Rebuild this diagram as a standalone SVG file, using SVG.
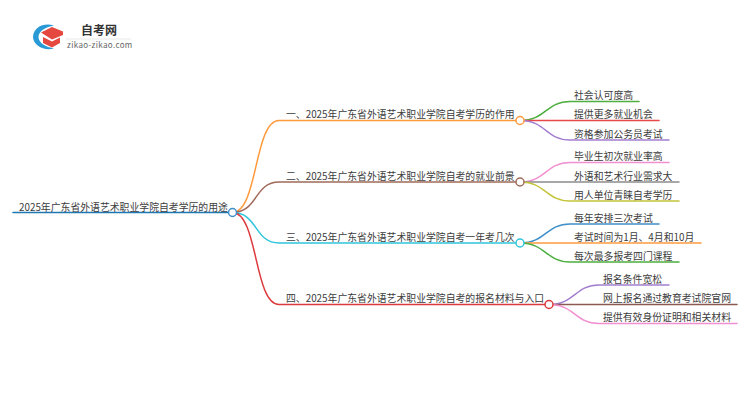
<svg xmlns="http://www.w3.org/2000/svg" width="750" height="410" viewBox="0 0 750 410">
<style>
text{font-family:"Noto Sans CJK SC","Liberation Sans",sans-serif;font-size:9.85px;fill:#3c3c3c}
.c{fill:none;stroke-width:1.5;stroke-linecap:round}
.n{fill:#fff;stroke-width:1.5}
</style>
<rect width="750" height="410" fill="#fff"/>
<g id="logo">
<path d="M54 25.500C44 22.500 33.500 27 33 37C33.500 46 44 51 54 48.500C46 47 38.500 43 38.500 37C38.500 31 46 27 54 25.500Z" fill="#2a9ad6"/>
<path d="M41 32.500L52 27L63 31.500V35L52 39.500Z" fill="#e5483f"/>
<path d="M43 37L52 41.500L60 37.500V43L52 47.500L43 43Z" fill="#e5483f"/>
<text x="81" y="35" style="font-size:12px;font-weight:700;fill:#333">自考网</text>
<line x1="66" y1="39" x2="131" y2="39" stroke="#e8e8e8"/>
<text x="67" y="48" style="font-size:8px;fill:#666;letter-spacing:.35px">zikao-zikao.com</text>
</g>
<g id="connectors">
<path class="c" stroke="#1f77b4" d="M13 212.500H228"/>
<path class="c" stroke="#ff9a3c" d="M232.500 212.500C258 212.500 254 120.500 279 120.500H516"/>
<path class="c" stroke="#a0695a" d="M232.500 212.500C258 212.500 254 182 279 182H516"/>
<path class="c" stroke="#2fc5dc" d="M232.500 212.500C258 212.500 254 243 279 243H516"/>
<path class="c" stroke="#dc3a3c" d="M232.500 212.500C258 212.500 254 304.500 279 304.500H545"/>
<path class="c" stroke="#4caf3f" d="M520 120.500C546 120.500 546 101.500 570 101.500H639"/>
<path class="c" stroke="#e8484a" d="M520 120.500H659"/>
<path class="c" stroke="#a37fd0" d="M520 120.500C546 120.500 546 140 570 140H669"/>
<path class="c" stroke="#f28fd0" d="M520 182C546 182 546 162.500 570 162.500H669"/>
<path class="c" stroke="#8c8c8c" d="M520 182H679"/>
<path class="c" stroke="#c4c43a" d="M520 182C546 182 546 201 570 201H679"/>
<path class="c" stroke="#3f8fc8" d="M520 243C546 243 546 224 570 224H659"/>
<path class="c" stroke="#ff9a3c" d="M520 243H701"/>
<path class="c" stroke="#4caf3f" d="M520 243C546 243 546 262 570 262H679"/>
<path class="c" stroke="#a37fd0" d="M549 304.500C575 304.500 575 285 599 285H669"/>
<path class="c" stroke="#8c5a50" d="M549 304.500H737"/>
<path class="c" stroke="#f28fd0" d="M549 304.500C575 304.500 575 323.500 599 323.500H737"/>
</g>
<g id="root"><text x="19" y="210.500">2025年广东省外语艺术职业学院自考学历的用途</text><circle class="n" cx="232.500" cy="212.500" r="4" stroke="#3f8fc8"/></g>
<g id="b1"><text x="286" y="118">一、2025年广东省外语艺术职业学院自考学历的作用</text><circle class="n" cx="520" cy="120.500" r="4" stroke="#ff9a3c"/></g>
<g id="b2"><text x="286" y="179.500">二、2025年广东省外语艺术职业学院自考的就业前景</text><circle class="n" cx="520" cy="182" r="4" stroke="#a0695a"/></g>
<g id="b3"><text x="286" y="240.500">三、2025年广东省外语艺术职业学院自考一年考几次</text><circle class="n" cx="520" cy="243" r="4" stroke="#2fc5dc"/></g>
<g id="b4"><text x="286" y="302">四、2025年广东省外语艺术职业学院自考的报名材料与入口</text><circle class="n" cx="549" cy="304.500" r="4" stroke="#dc3a3c"/></g>
<g id="l1"><text x="574" y="99">社会认可度高</text></g>
<g id="l2"><text x="574" y="118">提供更多就业机会</text></g>
<g id="l3"><text x="574" y="137.500">资格参加公务员考试</text></g>
<g id="l4"><text x="574" y="160">毕业生初次就业率高</text></g>
<g id="l5"><text x="574" y="179.500">外语和艺术行业需求大</text></g>
<g id="l6"><text x="574" y="198.500">用人单位青睐自考学历</text></g>
<g id="l7"><text x="574" y="221.500">每年安排三次考试</text></g>
<g id="l8"><text x="574" y="240.500">考试时间为1月、4月和10月</text></g>
<g id="l9"><text x="574" y="259.500">每次最多报考四门课程</text></g>
<g id="l10"><text x="603" y="282.500">报名条件宽松</text></g>
<g id="l11"><text x="603" y="302">网上报名通过教育考试院官网</text></g>
<g id="l12"><text x="603" y="321">提供有效身份证明和相关材料</text></g>
</svg>
